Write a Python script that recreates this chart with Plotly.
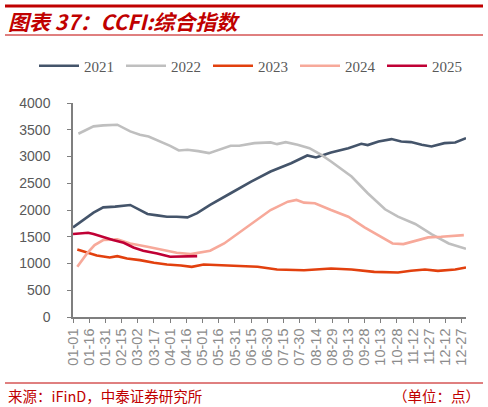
import plotly.graph_objects as go

# ── Data (day of year, index value) ─────────────────────────────
tick_days = list(range(0, 361, 15))
tick_labels = [
    "01-01", "01-16", "01-31", "02-15", "03-02", "03-17", "04-01", "04-16",
    "05-01", "05-16", "05-31", "06-15", "06-30", "07-15", "07-30", "08-14",
    "08-29", "09-13", "09-28", "10-13", "10-28", "11-12", "11-27", "12-12",
    "12-27",
]

days_2021 = [0, 10, 19, 28, 39, 53, 59, 69, 78, 87, 96, 106, 115, 127, 146, 165,
             183, 202, 217, 225, 239, 255, 267, 273, 283, 295, 304, 313, 323,
             332, 344, 354, 364]
ccfi_2021 = [1675, 1813, 1950, 2050, 2063, 2094, 2031, 1925, 1900, 1875, 1875,
             1863, 1940, 2094, 2313, 2531, 2719, 2875, 3019, 2981, 3075, 3156,
             3238, 3213, 3281, 3325, 3281, 3269, 3219, 3188, 3250, 3263, 3344]

days_2022 = [5, 19, 28, 41, 53, 62, 70, 81, 90, 98, 106, 116, 126, 146, 154, 168,
             183, 189, 197, 208, 219, 230, 239, 258, 273, 289, 301, 317, 332,
             348, 357, 364]
ccfi_2022 = [3425, 3563, 3581, 3594, 3469, 3407, 3375, 3281, 3200, 3113, 3125,
             3100, 3063, 3200, 3200, 3250, 3263, 3231, 3269, 3219, 3156, 3031,
             2906, 2625, 2313, 2013, 1875, 1738, 1550, 1375, 1313, 1275]

days_2023 = [4, 13, 22, 34, 41, 50, 62, 75, 87, 100, 110, 121, 140, 171, 189,
             214, 239, 258, 279, 301, 313, 326, 338, 354, 364]
ccfi_2023 = [1263, 1200, 1150, 1113, 1138, 1094, 1063, 1013, 981, 963, 938, 981,
             963, 938, 888, 875, 906, 888, 844, 831, 863, 888, 863, 888, 925]

days_2024 = [4, 13, 20, 28, 41, 53, 69, 81, 96, 109, 118, 127, 140, 155, 168,
             183, 199, 207, 214, 224, 239, 255, 270, 286, 296, 306, 317, 329,
             341, 354, 362]
ccfi_2024 = [938, 1188, 1344, 1438, 1450, 1375, 1313, 1263, 1200, 1175, 1200,
             1238, 1375, 1594, 1781, 2000, 2156, 2188, 2138, 2125, 2000, 1875,
             1675, 1488, 1375, 1363, 1425, 1488, 1500, 1513, 1531]

days_2025 = [0, 14, 19, 28, 37, 47, 56, 65, 78, 90, 103, 115]
ccfi_2025 = [1550, 1575, 1550, 1488, 1438, 1388, 1300, 1238, 1188, 1125, 1125,
             1138]

series = [
    ("2021", days_2021, ccfi_2021, "#44546A"),
    ("2022", days_2022, ccfi_2022, "#BFBFBF"),
    ("2023", days_2023, ccfi_2023, "#E2400E"),
    ("2024", days_2024, ccfi_2024, "#F7A99A"),
    ("2025", days_2025, ccfi_2025, "#C00035"),
]

# ── Geometry (pixels) ───────────────────────────────────────────
W, H = 488, 407
L, R, T, B = 73, 22, 103, 90
PW, PH = W - L - R, H - T - B
RED = "#C00000"


def px_x(x):
    return (x - L) / PW


def px_y(y):
    return (H - B - y) / PH


fig = go.Figure()
for name, xs, ys, color in series:
    fig.add_trace(go.Scatter(
        x=xs, y=ys, name=name, mode="lines",
        line={"color": color, "width": 2.6},
    ))

axis_grey = "#7F7F7F"
fig.update_layout(
    width=W, height=H,
    margin={"l": L, "r": R, "t": T, "b": B},
    plot_bgcolor="white", paper_bgcolor="white",
    showlegend=True,
    legend={
        "orientation": "h", "x": px_x(34), "y": px_y(66),
        "xanchor": "left", "yanchor": "middle",
        "font": {"family": "Liberation Serif", "size": 15, "color": "#595959"},
        "entrywidth": 32, "entrywidthmode": "pixels",
        "tracegroupgap": 0, "itemwidth": 40,
    },
    xaxis={
        "range": [0, 364], "tickmode": "array",
        "tickvals": tick_days, "ticktext": tick_labels,
        "tickangle": -90, "showgrid": False, "zeroline": False,
        "showline": True, "linecolor": axis_grey, "linewidth": 1.5,
        "ticks": "outside", "ticklen": 4, "tickcolor": axis_grey,
        "tickfont": {"family": "Liberation Sans", "size": 14.5, "color": "#8C8C8C"},
    },
    yaxis={
        "range": [0, 4000], "dtick": 500, "showgrid": False, "zeroline": False,
        "showline": True, "linecolor": axis_grey, "linewidth": 1.5,
        "ticks": "outside", "ticklen": 4, "tickcolor": axis_grey,
        "ticklabelstandoff": 14,
        "tickfont": {"family": "Liberation Sans", "size": 14, "color": "#595959"},
    },
    shapes=[
        {"type": "line", "xref": "paper", "yref": "paper",
         "x0": px_x(5), "x1": px_x(483), "y0": px_y(6), "y1": px_y(6),
         "line": {"color": RED, "width": 3}},
        {"type": "line", "xref": "paper", "yref": "paper",
         "x0": px_x(5), "x1": px_x(483), "y0": px_y(35), "y1": px_y(35),
         "line": {"color": RED, "width": 1}},
        {"type": "line", "xref": "paper", "yref": "paper",
         "x0": px_x(5), "x1": px_x(483), "y0": px_y(383), "y1": px_y(383),
         "line": {"color": RED, "width": 1}},
    ],
    annotations=[
        {"text": "<b><i>图表 37：CCFI:综合指数</i></b>", "showarrow": False,
         "xref": "paper", "yref": "paper", "x": px_x(6), "y": px_y(21),
         "xanchor": "left", "yanchor": "middle",
         "font": {"family": "Noto Sans CJK SC", "size": 21, "color": RED}},
        {"text": "来源：iFinD，中泰证券研究所", "showarrow": False,
         "xref": "paper", "yref": "paper", "x": px_x(6), "y": px_y(395),
         "xanchor": "left", "yanchor": "middle",
         "font": {"family": "Noto Sans CJK SC", "size": 14.5, "color": RED}},
        {"text": "（单位：点）", "showarrow": False,
         "xref": "paper", "yref": "paper", "x": px_x(482), "y": px_y(395),
         "xanchor": "right", "yanchor": "middle",
         "font": {"family": "Noto Sans CJK SC", "size": 14.5, "color": RED}},
    ],
)

# the page body keeps the browser's default 8px margin otherwise
fig.write_html(
    "out.html",
    config={"displayModeBar": False},
    post_script="document.body.style.margin='0';",
)
